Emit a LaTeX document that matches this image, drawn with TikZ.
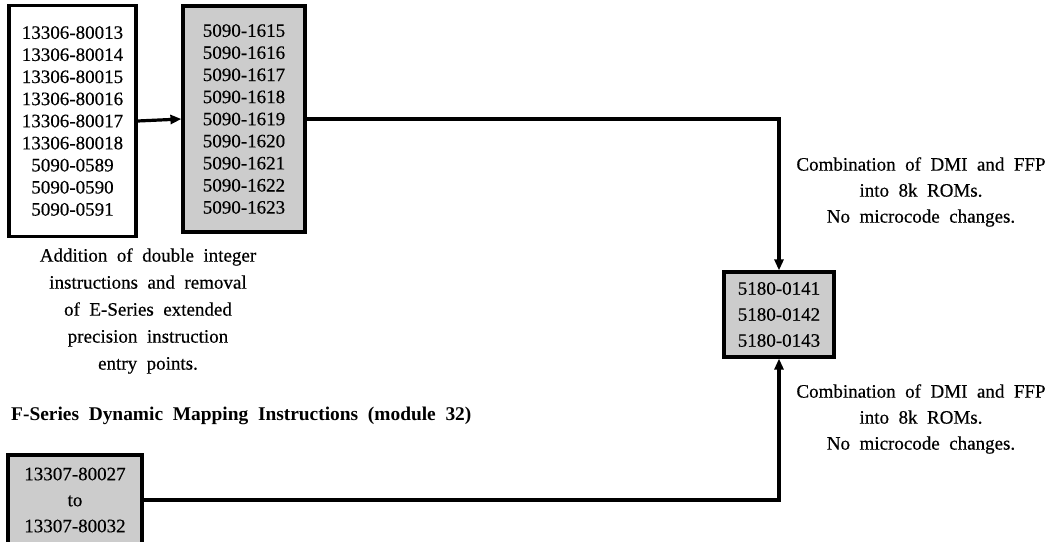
\documentclass[tikz,border=0pt]{standalone}
\usepackage{fontspec}
\setmainfont{Liberation Serif}[WordSpace=2.0, FakeBold=0.4]
\newfontfamily\titlefont{Liberation Serif}[WordSpace=2.0]
\usetikzlibrary{arrows.meta}
\tikzset{
  box/.style={draw=black, line width=3.2pt, inner sep=0pt, align=center},
  shaded/.style={box, fill=black!20},
  conn/.style={line width=3.2pt},
  arr/.style={conn, -{Triangle[length=11pt,width=9pt]}},
  tight/.style={font=\fontsize{19}{22.1}\selectfont},
  loose/.style={font=\fontsize{19}{26}\selectfont},
  note/.style={align=center, font=\fontsize{19}{26}\selectfont},
  wide/.style={align=center, font=\fontsize{19}{27}\selectfont},
}
\begin{document}
\begin{tikzpicture}[x=1pt,y=-1pt]
\useasboundingbox (0,0) rectangle (1054,541);
\node[box, tight, minimum width=127pt, minimum height=231pt] (A) at (72.5,121)
 {13306-80013\\13306-80014\\13306-80015\\13306-80016\\13306-80017\\13306-80018\\5090-0589\\5090-0590\\5090-0591};
\node[shaded, tight, minimum width=122pt, minimum height=226pt] (B) at (244,119)
 {5090-1615\\5090-1616\\5090-1617\\5090-1618\\5090-1619\\5090-1620\\5090-1621\\5090-1622\\5090-1623};
\node[shaded, loose, minimum width=110pt, minimum height=85pt] (C) at (779,314.5)
 {5180-0141\\5180-0142\\5180-0143};
\node[shaded, loose, minimum width=134pt, minimum height=90pt] (D) at (75,500)
 {13307-80027\\to\\13307-80032};
\node[wide] (L1) at (148,311) {Addition of double integer\\instructions and removal\\of E-Series extended\\precision instruction\\entry points.};
\node[note] (L2) at (921,192) {Combination of DMI and FFP\\into 8k ROMs.\\No microcode changes.};
\node[note] (L3) at (921,419) {Combination of DMI and FFP\\into 8k ROMs.\\No microcode changes.};
\node[anchor=west, font=\fontsize{19.4}{22}\selectfont\titlefont\bfseries, inner sep=0pt] (T) at (11,416)
 {F-Series Dynamic Mapping Instructions (module 32)};
\draw[arr] (A.east) -- (B.west);
\draw[arr] (B.east) -| (C.north);
\draw[arr] (D.east) -| (C.south);
\end{tikzpicture}
\end{document}
